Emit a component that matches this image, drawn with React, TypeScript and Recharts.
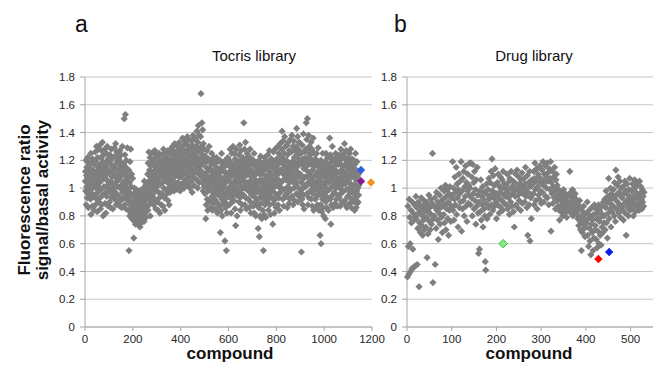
import React from "react";
import { ScatterChart, Scatter, XAxis, YAxis, CartesianGrid } from "recharts";

// ratio x100, one value per compound (index 1..n)
const tocrisRatio = [
  105,112,98,120,88,109,101,115,93,107,122,96,104,86,111,100,118,95,108,103,
  99,114,92,125,81,107,118,103,96,110,87,121,100,113,94,108,84,117,102,106,
  110,95,126,88,104,119,100,130,92,112,83,108,122,97,115,101,128,90,106,113,
  104,131,93,117,85,110,122,99,127,88,113,106,133,95,119,80,109,124,101,116,
  112,96,128,89,107,118,82,115,101,125,94,110,130,98,105,121,87,113,100,119,
  103,118,90,124,97,111,86,120,105,128,93,108,116,99,113,85,122,102,110,95,
  115,100,129,92,109,123,97,132,104,88,118,107,126,95,113,101,120,90,111,124,
  106,121,94,113,87,127,100,116,108,91,124,102,118,86,110,130,97,114,104,99,
  102,117,93,150,110,88,124,98,153,106,115,85,120,100,112,95,129,104,91,108,
  98,84,113,55,92,104,80,119,88,96,128,82,101,90,110,78,95,86,107,83,
  88,79,95,64,84,100,76,91,82,97,74,87,93,80,99,85,78,90,83,94,
  82,90,76,96,73,86,80,98,84,72,89,78,93,81,87,75,91,85,79,95,
  86,93,78,100,84,89,76,105,91,82,97,80,88,102,94,79,99,87,104,92,
  96,110,84,118,100,92,126,105,88,113,98,122,80,108,116,94,103,125,90,111,
  107,119,95,126,100,112,88,121,104,116,92,127,109,98,118,85,113,103,124,106,
  101,115,90,123,106,84,118,97,111,125,93,108,82,120,103,114,96,109,88,117,
  110,96,124,104,118,87,113,128,100,107,121,93,115,84,109,126,99,112,105,119,
  108,122,96,116,104,127,91,112,119,100,125,88,114,106,120,97,110,128,103,117,
  115,106,124,99,118,130,110,121,102,127,113,98,119,108,132,104,116,123,111,101,
  112,125,103,118,99,130,109,121,115,104,127,100,117,133,108,122,111,98,126,114,
  118,108,129,113,102,125,120,136,110,117,104,131,123,100,115,127,111,134,106,121,
  121,110,132,116,104,127,119,137,112,125,102,130,118,108,135,114,123,100,128,117,
  116,128,105,122,134,110,119,97,131,113,125,138,108,120,102,129,117,111,136,123,
  124,112,135,118,130,106,127,141,115,122,100,133,119,145,110,128,104,138,121,116,
  126,113,137,120,168,108,130,117,147,104,124,142,111,98,132,119,106,128,101,122,
  110,96,123,104,78,115,88,119,101,127,92,108,84,112,98,121,105,90,130,103,
  100,114,91,120,106,86,117,98,109,125,94,103,84,112,97,118,107,89,122,102,
  104,92,118,99,110,85,115,96,107,122,90,101,113,82,106,119,95,109,88,112,
  98,111,87,120,103,68,95,115,84,107,125,92,100,80,112,97,118,89,105,93,
  101,115,90,108,62,96,120,86,104,111,55,93,117,82,106,99,122,88,110,95,
  107,96,120,88,112,101,128,93,115,104,82,118,98,125,109,90,113,102,130,95,
  103,117,91,125,99,110,85,121,106,73,114,95,128,100,108,80,119,97,112,104,
  110,98,124,90,116,105,131,93,112,84,120,102,127,96,108,118,88,114,100,122,
  106,119,95,147,111,100,128,88,115,104,133,93,121,109,85,117,99,125,112,102,
  104,116,92,123,100,110,86,119,97,128,105,90,113,82,108,121,95,111,101,117,
  98,112,87,120,104,94,125,82,109,100,116,90,106,80,118,97,111,103,88,114,
  101,92,117,71,105,86,120,97,65,110,80,113,99,123,89,106,94,115,78,103,
  96,110,84,118,100,55,92,113,81,106,122,97,88,115,102,79,109,94,119,90,
  103,115,91,124,99,108,84,119,96,112,127,88,105,94,117,81,110,101,121,98,
  107,93,120,100,74,114,89,126,104,97,118,82,110,101,128,92,116,106,86,112,
  109,121,95,114,102,130,88,117,106,125,93,111,84,119,100,132,97,113,104,123,
  112,100,128,141,105,118,92,134,110,121,87,115,125,99,137,107,119,95,130,113,
  106,120,94,131,110,86,124,101,116,133,97,112,89,127,104,118,92,135,108,115,
  113,99,126,107,138,94,119,111,130,88,116,104,134,100,122,109,91,127,115,103,
  118,105,130,96,143,112,124,101,137,90,116,128,108,121,94,133,110,119,99,126,
  110,97,125,104,54,117,92,131,106,88,121,100,139,95,114,85,126,108,119,102,
  115,128,101,122,147,108,135,96,119,150,112,88,126,104,138,93,117,130,109,121,
  111,98,124,106,133,92,117,102,128,87,113,120,96,136,108,84,119,104,125,100,
  103,116,92,121,99,110,86,125,105,94,118,88,112,100,129,96,108,84,115,102,
  99,112,66,105,88,120,60,95,108,83,117,101,92,125,86,110,97,80,114,104,
  108,95,119,103,78,113,90,125,100,110,86,117,98,122,106,93,115,84,111,104,
  112,99,136,105,118,92,124,74,108,115,88,121,101,130,95,113,106,86,119,110,
  110,97,121,104,116,89,113,125,100,108,92,119,103,122,87,111,106,95,117,101,
  105,118,93,124,100,111,87,120,107,128,96,113,102,90,116,109,123,98,110,104,
  112,98,125,106,132,91,117,103,121,88,110,127,99,115,86,119,108,94,122,105,
  106,119,94,113,100,125,89,110,117,97,128,103,86,115,108,121,92,111,99,116,
  101,114,90,120,96,108,84,117,103,111,125,93,106,86,113,98,119,89,108,95,
  100,90,110,95,102,
];

const drugRatio = [
  36,87,58,38,92,79,60,40,84,75,42,90,56,82,43,77,88,44,80,94,
  78,86,45,71,90,82,29,75,88,68,84,93,73,80,66,87,77,91,70,83,
  85,72,90,79,50,88,67,83,95,76,86,70,92,81,74,89,125,32,78,87,
  80,93,45,86,71,97,84,77,90,63,88,82,95,74,86,100,79,91,68,87,
  92,81,98,75,88,102,70,94,85,99,78,90,66,96,84,101,88,76,93,86,
  95,119,84,100,77,92,108,88,97,115,81,103,93,72,99,110,86,96,105,90,
  119,69,98,85,107,91,112,80,101,94,116,87,104,76,98,110,89,102,95,118,
  100,88,118,93,108,80,117,96,104,85,112,91,99,74,106,87,115,95,82,53,
  90,56,98,83,106,77,94,88,101,72,92,85,97,80,47,41,89,103,78,95,
  99,86,107,92,81,104,95,112,88,121,98,84,109,93,102,87,114,96,90,78,
  96,104,88,110,93,82,101,97,108,86,99,91,106,84,112,95,103,89,100,94,
  102,88,97,110,85,104,93,99,81,107,95,90,112,87,101,96,105,83,98,72,
  104,94,110,88,99,113,86,101,95,108,91,103,97,84,106,100,111,89,96,102,
  98,107,90,103,115,94,100,86,109,66,97,104,88,112,62,101,93,78,106,95,
  103,96,112,88,107,118,99,91,105,114,85,101,110,95,108,92,116,98,104,89,
  106,113,97,119,102,90,110,104,116,94,108,100,118,93,111,105,88,114,99,107,
  119,69,104,96,112,89,101,108,93,115,98,85,106,110,91,102,95,87,99,84,
  77,92,86,97,83,90,95,80,88,99,85,93,82,96,87,91,79,94,89,84,
  90,95,84,112,88,97,82,93,86,99,80,91,94,85,89,96,83,92,87,81,
  84,78,88,73,80,91,76,70,85,55,79,68,83,74,87,71,81,65,77,72,
  75,82,90,66,78,58,84,71,62,80,52,74,86,68,77,55,81,64,88,70,
  73,85,63,78,57,82,69,88,60,76,84,66,79,59,87,72,81,68,90,75,
  80,92,70,86,98,75,89,64,94,82,107,78,91,85,100,72,96,88,83,93,
  87,99,80,104,92,76,113,95,85,102,90,108,82,97,88,105,79,94,100,86,
  93,84,101,77,96,89,105,82,98,66,91,103,86,95,80,99,88,107,84,92,
  90,98,85,103,94,80,100,88,106,92,83,97,101,87,95,104,89,93,84,105,
  96,88,101,92,85,99,90,94,87,97,
];

// highlighted compounds
const tocrisHitCompound = [1154, 1154, 1196];
const tocrisHitRatio = [1.13, 1.05, 1.04];
const drugHitCompound = [215, 428, 452];
const drugHitRatio = [0.6, 0.49, 0.54];

const tocrisTicks = [0, 200, 400, 600, 800, 1000, 1200];
const drugTicks = [0, 100, 200, 300, 400, 500];
const ratioTicks = [0, 0.2, 0.4, 0.6, 0.8, 1, 1.2, 1.4, 1.6, 1.8];

const tocrisData = tocrisRatio.map((v, i) => ({ x: i + 1, y: v / 100 }));
const drugData = drugRatio.map((v, i) => ({ x: i + 1, y: v / 100 }));

const W = 653, H = 367;
const GRAY = "#7f7f7f";
const AXIS = "#a6a6a6";
const tickStyle = { fontSize: 11.5, fill: "#262626" };

const diamond = (fill: string, r: number, stroke = "none") => (p: any) => {
  const { cx, cy } = p;
  return (
    <path
      d={`M${cx},${cy - r}L${cx + r},${cy}L${cx},${cy + r}L${cx - r},${cy}Z`}
      fill={fill}
      stroke={stroke}
      strokeWidth={1}
    />
  );
};

function Panel({ data, hitsX, hitsY, hitColors, hitStroke, domainX, ticksX, margin }: any) {
  return (
    <ScatterChart width={W} height={H} margin={margin} style={{ position: "absolute", left: 0, top: 0 }}>
      <CartesianGrid vertical={false} stroke="#c6c6c6" strokeWidth={1} />
      <XAxis
        type="number"
        dataKey="x"
        domain={domainX}
        ticks={ticksX}
        height={20}
        tick={tickStyle}
        stroke={AXIS}
        tickSize={4}
        tickMargin={4}
      />
      <YAxis
        type="number"
        dataKey="y"
        domain={[0, 1.8]}
        ticks={ratioTicks}
        width={30}
        tick={tickStyle}
        stroke={AXIS}
        tickSize={5}
        tickMargin={5}
        tickFormatter={(v: number) => String(+v.toFixed(1))}
      />
      <Scatter data={data} shape={diamond(GRAY, 3.6)} isAnimationActive={false} />
      {hitsX.map((hx: number, i: number) => (
        <Scatter
          key={i}
          data={[{ x: hx, y: hitsY[i] }]}
          shape={diamond(hitColors[i], 4.2, hitStroke[i])}
          isAnimationActive={false}
        />
      ))}
    </ScatterChart>
  );
}

export default function App() {
  return (
    <div
      style={{
        position: "fixed",
        left: 0,
        top: 0,
        width: W,
        height: H,
        background: "#fff",
        fontFamily: "'Liberation Sans', Arial, sans-serif",
        overflow: "hidden",
      }}
    >
      <Panel
        data={tocrisData}
        hitsX={tocrisHitCompound}
        hitsY={tocrisHitRatio}
        hitColors={["#2f5fe0", "#8a1a94", "#f7901e"]}
        hitStroke={["none", "none", "none"]}
        domainX={[0, 1200]}
        ticksX={tocrisTicks}
        margin={{ top: 77, right: 281, bottom: 20, left: 55 }}
      />
      <Panel
        data={drugData}
        hitsX={drugHitCompound}
        hitsY={drugHitRatio}
        hitColors={["#86ea86", "#ff0000", "#0a1ee6"]}
        hitStroke={["#3fb83f", "none", "none"]}
        domainX={[0, 550]}
        ticksX={drugTicks}
        margin={{ top: 77, right: 0, bottom: 20, left: 377 }}
      />
      <svg width={W} height={H} style={{ position: "absolute", left: 0, top: 0, pointerEvents: "none" }}>
        <text x={75} y={32} fontSize={23} fill="#111">a</text>
        <text x={394} y={32} fontSize={23} fill="#111">b</text>
        <text x={254} y={61} fontSize={15} textAnchor="middle" fill="#111">Tocris library</text>
        <text x={534} y={61} fontSize={15} textAnchor="middle" fill="#111">Drug library</text>
        <text x={230} y={359} fontSize={17} fontWeight="bold" textAnchor="middle" fill="#111">compound</text>
        <text x={529} y={359} fontSize={17} fontWeight="bold" textAnchor="middle" fill="#111">compound</text>
        <g transform="translate(30,200) rotate(-90)">
          <text x={0} y={0} fontSize={17} fontWeight="bold" textAnchor="middle" fill="#111">Fluorescence ratio</text>
          <text x={0} y={18} fontSize={17} fontWeight="bold" textAnchor="middle" fill="#111">signal/basal activity</text>
        </g>
      </svg>
    </div>
  );
}
